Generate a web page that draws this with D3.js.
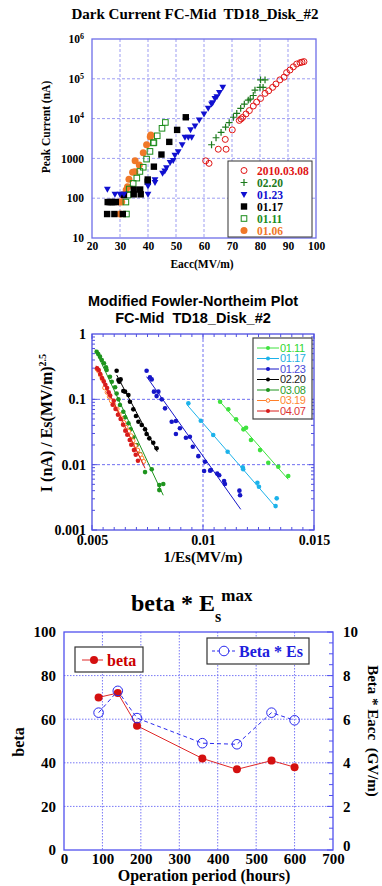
<!DOCTYPE html>
<html><head><meta charset="utf-8">
<script src="https://cdn.jsdelivr.net/npm/d3@7"></script>
<style>
body{margin:0;background:#fff;}
svg{display:block;}
</style></head><body>
<svg id="c" width="382" height="886"></svg>
<script>
// ---------------- Panel 1 data: Dark current vs Eacc ----------------
const dcXTicks = [20,30,40,50,60,70,80,90,100];
const dcYTicks = [10,100,1000,1e4,1e5,1e6];
const dcSeriesNames = ["2010.03.08","02.20","01.23","01.17","01.11","01.06"];
const dc0308 = [[60.6,870],[61.8,750],[65.1,1700],[67.9,1700],[67.6,3000],[70.1,5200],[72.6,9000],[73.2,9800],[73.8,10700],[75,13100],[76.2,15900],[77.6,20700],[78.8,26000],[80.2,32000],[81.8,43000],[83.1,50000],[84.5,61000],[85.7,74000],[87.1,94000],[88.6,110000],[89.5,143000],[90.7,166000],[91.9,200000],[93.1,235000],[94.3,254000],[95,262000],[95.7,270000]];
const dc0220 = [[62.7,2200],[64.3,3300],[66.1,4500],[67.7,6100],[69,7900],[70.5,10800],[71.7,13600],[73.1,18000],[74.4,23000],[75.8,29000],[76.5,31000],[77.6,38000],[78.2,52000],[80,61000],[81.1,61000],[80.2,94000],[81.8,94000]];
const dc0123 = [[25.5,166],[28.2,125],[30,125],[31.4,125],[40,125],[40,200],[42.5,245],[42.5,290],[45.2,420],[46,480],[46.6,580],[47.9,780],[49,880],[49.6,1200],[50.8,1470],[52.2,2200],[53.2,3400],[54.4,3400],[55.6,3400],[55.2,5200],[56.8,6500],[58.3,9200],[60,13000],[61.5,18000],[62.7,23000],[63.1,25000],[63.9,32000],[64.6,35000],[65.5,45000],[66.7,61000]];
const dc0117 = [[25.4,40],[28,40],[31,40],[25.6,80],[26.3,80],[27,80],[27.7,80],[28.5,80],[31.4,120],[34.9,165],[34.9,125],[37.2,165],[37.4,125],[39.9,260],[39.9,295],[42.1,620],[44.8,1250],[47.6,2600],[50.4,5200],[53.5,10800]];
const dc0111 = [[32.3,40],[32.1,80],[32.9,120],[33.3,170],[34.7,235],[36,320],[37.1,470],[38.3,600],[39.5,960],[40.7,1500],[41.9,2450],[42.1,2500],[43.3,3700],[45,5700],[46.2,8000]];
const dc0106 = [[30,40],[29.8,80],[30.6,80],[31,120],[32.2,160],[32.7,195],[33.2,300],[34.5,450],[35.3,460],[35.4,870],[36.9,680],[38.3,1380],[39.5,2200],[40.8,3500],[41,3900]];

// ---------------- Panel 2 data: Modified Fowler-Nordheim ----------------
const fnXTicks = [0.005,0.01,0.015];
const fnYTicks = [0.001,0.01,0.1,1];
const fnNames = ["01.11","01.17","01.23","02.20","03.08","03.19","04.07"];
const fn0111X = [0.01077,0.01114,0.01149,0.01182,0.01194,0.01216,0.01257,0.01294,0.01339,0.01384];
const fn0111Y = [0.092,0.0703,0.0494,0.0347,0.0367,0.0238,0.0167,0.0107,0.0093,0.0067];
const fn0111Fit = [[0.01073,0.095],[0.01384,0.00596]];
const fn0117X = [0.00934,0.0099,0.01046,0.01111,0.01179,0.01181,0.01245,0.01252,0.01332,0.01327];
const fn0117Y = [0.0868,0.047,0.0284,0.0158,0.0091,0.0085,0.00528,0.00458,0.00305,0.00232];
const fn0117Fit = [[0.00929,0.0818],[0.01329,0.00222]];
const fn0123X = [0.00746,0.00761,0.00769,0.00779,0.00799,0.00791,0.00814,0.00829,0.00859,0.00878,0.00896,0.00878,0.00923,0.00941,0.00954,0.00979,0.01009,0.01005,0.01032,0.01036,0.01064,0.01073,0.01095,0.01099,0.01164,0.01167];
const fn0123Y = [0.274,0.217,0.202,0.131,0.131,0.112,0.1,0.0728,0.0454,0.0465,0.036,0.0294,0.0258,0.0267,0.0188,0.0135,0.0111,0.008,0.0081,0.0083,0.0073,0.0069,0.0056,0.00505,0.004,0.0034];
const fn0123Fit = [[0.00746,0.222],[0.0117,0.00207]];
const fn0220X = [0.00611,0.00619,0.00629,0.00623,0.00641,0.00649,0.00664,0.00671,0.00686,0.00698,0.00709,0.00724,0.00739,0.00746,0.00758,0.00776,0.00791];
const fn0220Y = [0.274,0.198,0.202,0.186,0.134,0.131,0.116,0.092,0.0703,0.0555,0.0454,0.0404,0.0347,0.0294,0.0253,0.0216,0.0178];
const fn0220Fit = [[0.00611,0.236],[0.00794,0.0158]];
const fn0308X = [0.00521,0.00528,0.00536,0.00544,0.00554,0.00563,0.00566,0.00581,0.00589,0.00604,0.00611,0.00619,0.00626,0.00641,0.00649,0.00664,0.00674,0.00686,0.00701,0.00716,0.00739,0.00769,0.00803,0.00821,0.00803];
const fn0308Y = [0.536,0.494,0.45,0.40,0.356,0.309,0.281,0.222,0.186,0.153,0.123,0.1,0.0818,0.0647,0.053,0.0429,0.0347,0.0262,0.02,0.0145,0.0077,0.0085,0.00487,0.00505,0.00408];
const fn0308Fit = [[0.00514,0.58],[0.00821,0.0034]];
const fn0319X = [0.00523,0.0053,0.00538,0.00546,0.00557,0.00568,0.00578,0.00587,0.00598,0.00613,0.00622,0.00632,0.00643,0.00653,0.00665,0.00676,0.00685,0.00695,0.00706,0.00718,0.00725,0.00733];
const fn0319Y = [0.29,0.27,0.235,0.205,0.15,0.128,0.11,0.095,0.0826,0.071,0.0596,0.0517,0.0444,0.0373,0.0324,0.0277,0.0232,0.0195,0.0167,0.0142,0.0126,0.0112];
const fn0319Fit = [[0.0052,0.30],[0.00735,0.0105]];
const fn0407X = [0.00523,0.0053,0.00537,0.00545,0.00553,0.0056,0.00568,0.00575,0.00582,0.00593,0.00598,0.00606,0.00617,0.00629,0.0064,0.0065,0.00659,0.0067,0.00677,0.00689,0.00697,0.00707];
const fn0407Y = [0.298,0.281,0.244,0.212,0.188,0.167,0.149,0.128,0.114,0.0826,0.0953,0.071,0.058,0.0499,0.0408,0.0331,0.0287,0.0238,0.0202,0.0167,0.0142,0.0115];
const fn0407Fit = [[0.00519,0.327],[0.00739,0.0088]];

// ---------------- Panel 3 data: beta vs operation period ----------------
const opXTicks = [0,100,200,300,400,500,600,700];
const betaTicks = [0,20,40,60,80,100];
const betaEsTicks = [0,2,4,6,8,10];
const hours = [90,140,190,360,450,540,600];
const beta = [70,72,57,42,37,41,38];
const betaEs = [6.3,7.3,6.05,4.9,4.85,6.3,5.95];

const SERIF = '"Liberation Serif","Times New Roman",serif';
const SANS = '"Liberation Sans",Arial,sans-serif';

const svg = d3.select('#c');
svg.append('rect').attr('width',382).attr('height',886).attr('fill','#fff');

function styleAxis(g, size, family, weight){
  g.attr('font-family',family).attr('font-size',size).attr('font-weight',weight);
  g.select('.domain').remove();
  g.selectAll('text').attr('fill','#000');
}

// =================== PANEL 1 ===================
{
  const L=92,R=316,T=39,B=238;
  const x = d3.scaleLinear().domain([20,100]).range([L,R]);
  const y = d3.scaleLog().domain([10,1e6]).range([B,T]);
  const g = svg.append('g');
  g.append('text').attr('x',195).attr('y',19).attr('text-anchor','middle')
    .attr('font-family',SERIF).attr('font-weight','bold').attr('font-size',15)
    .style('white-space','pre').text('Dark Current FC-Mid  TD18_Disk_#2');
  g.selectAll('.gx').data(dcXTicks.slice(1,-1)).join('line')
    .attr('x1',d=>x(d)).attr('x2',d=>x(d)).attr('y1',T).attr('y2',B)
    .attr('stroke','#9d9df2').attr('stroke-width',1).attr('stroke-dasharray','3,2');
  g.selectAll('.gy').data(dcYTicks.slice(1,-1)).join('line')
    .attr('y1',d=>y(d)).attr('y2',d=>y(d)).attr('x1',L).attr('x2',R)
    .attr('stroke','#9d9df2').attr('stroke-width',1).attr('stroke-dasharray','3,2');
  g.append('rect').attr('x',L).attr('y',T).attr('width',R-L).attr('height',B-T)
    .attr('fill','none').attr('stroke','#6e6ee8').attr('stroke-width',1.3);
  const ax = g.append('g').attr('transform',`translate(0,${B})`)
    .call(d3.axisBottom(x).tickValues(dcXTicks).tickSize(0).tickPadding(4).tickFormat(d3.format('d')));
  styleAxis(ax,11.5,SERIF,'bold');
  const ay = g.append('g').attr('transform',`translate(${L},0)`)
    .call(d3.axisLeft(y).tickValues(dcYTicks).tickSize(0).tickPadding(8).tickFormat(d=> d>=1e4 ? '10' : String(d)));
  styleAxis(ay,11.5,SERIF,'bold');
  ay.selectAll('.tick text').filter(d=>d>=1e4).append('tspan')
    .attr('dy','-0.55em').attr('font-size',8).text(d=>Math.round(Math.log10(d)));
  g.append('text').attr('transform','translate(50,127) rotate(-90)').attr('text-anchor','middle')
    .attr('font-family',SERIF).attr('font-weight','bold').attr('font-size',11.5).text('Peak Current (nA)');
  g.append('text').attr('x',202).attr('y',268).attr('text-anchor','middle')
    .attr('font-family',SERIF).attr('font-weight','bold').attr('font-size',11.5).text('Eacc(MV/m)');

  const tri = 'M-3.4,-2.6L3.4,-2.6L0,3.4Z';
  const styles = {
    "2010.03.08": {data:dc0308, text:'#e01414', draw:(s)=>s.append('circle').attr('r',3).attr('fill','none').attr('stroke','#e01414').attr('stroke-width',1)},
    "02.20": {data:dc0220, text:'#1c7a1c', draw:(s)=>s.append('path').attr('d','M-3.4,0H3.4M0,-3.4V3.4').attr('stroke','#1c7a1c').attr('stroke-width',1.2)},
    "01.23": {data:dc0123, text:'#1010d0', draw:(s)=>s.append('path').attr('d',tri).attr('fill','#1010d0')},
    "01.17": {data:dc0117, text:'#000', draw:(s)=>s.append('rect').attr('x',-3.2).attr('y',-3.2).attr('width',6.4).attr('height',6.4).attr('fill','#000')},
    "01.11": {data:dc0111, text:'#1a8c1a', draw:(s)=>s.append('rect').attr('x',-2.8).attr('y',-2.8).attr('width',5.6).attr('height',5.6).attr('fill','none').attr('stroke','#1a8c1a').attr('stroke-width',1)},
    "01.06": {data:dc0106, text:'#f07828', draw:(s)=>s.append('circle').attr('r',3.5).attr('fill','#f07828')}
  };
  const order = ["01.06","01.11","01.17","01.23","02.20","2010.03.08"];
  order.forEach(n=>{
    const st = styles[n];
    const pts = g.append('g').selectAll('g').data(st.data).join('g')
      .attr('transform',d=>`translate(${x(d[0])},${y(d[1])})`);
    st.draw(pts);
  });
  const lg = g.append('g');
  lg.append('rect').attr('x',228).attr('y',161).attr('width',84).attr('height',76)
    .attr('fill','#fff').attr('stroke','#333').attr('stroke-width',1);
  dcSeriesNames.forEach((n,i)=>{
    const yy = 170.5 + i*12;
    const m = lg.append('g').attr('transform',`translate(244,${yy})`);
    styles[n].draw(m);
    lg.append('text').attr('x',257).attr('y',yy).attr('dy','0.35em')
      .attr('font-family',SERIF).attr('font-weight','bold').attr('font-size',11.5)
      .attr('fill',styles[n].text).text(n);
  });
}

// =================== PANEL 2 ===================
{
  const L=92,R=314,T=334,B=530;
  const x = d3.scaleLinear().domain([0.005,0.015]).range([L,R]);
  const y = d3.scaleLog().domain([0.001,1]).range([B,T]);
  const g = svg.append('g');
  g.append('text').attr('x',193).attr('y',306).attr('text-anchor','middle')
    .attr('font-family',SANS).attr('font-weight','bold').attr('font-size',14.5).text('Modified Fowler-Northeim Plot');
  g.append('text').attr('x',193).attr('y',323).attr('text-anchor','middle').style('white-space','pre')
    .attr('font-family',SANS).attr('font-weight','bold').attr('font-size',14.5).text('FC-Mid  TD18_Disk_#2');
  g.selectAll('.gx').data([0.01]).join('line')
    .attr('x1',d=>x(d)).attr('x2',d=>x(d)).attr('y1',T).attr('y2',B)
    .attr('stroke','#6e6ef0').attr('stroke-width',1).attr('stroke-dasharray','3,2');
  g.selectAll('.gy').data([0.01,0.1]).join('line')
    .attr('y1',d=>y(d)).attr('y2',d=>y(d)).attr('x1',L).attr('x2',R)
    .attr('stroke','#6e6ef0').attr('stroke-width',1).attr('stroke-dasharray','3,2');
  const frameC = '#4f4fe0';
  const xMinor = d3.range(0,21).map(i=>0.005+i*0.0005);
  const yMinor = [];
  [0.001,0.01,0.1].forEach(dd=>{ for(let k=1;k<10;k++) yMinor.push(dd*k); });
  const tk = g.append('g').attr('stroke',frameC).attr('stroke-width',1);
  xMinor.forEach((v,i)=>{
    const len = (i%10===0)?5:3;
    tk.append('line').attr('x1',x(v)).attr('x2',x(v)).attr('y1',B).attr('y2',B-len);
    tk.append('line').attr('x1',x(v)).attr('x2',x(v)).attr('y1',T).attr('y2',T+len);
  });
  yMinor.forEach((v,i)=>{
    const len = (i%9===0)?5:3;
    tk.append('line').attr('y1',y(v)).attr('y2',y(v)).attr('x1',L).attr('x2',L+len);
    tk.append('line').attr('y1',y(v)).attr('y2',y(v)).attr('x1',R).attr('x2',R-len);
  });
  g.append('rect').attr('x',L).attr('y',T).attr('width',R-L).attr('height',B-T)
    .attr('fill','none').attr('stroke',frameC).attr('stroke-width',1.3);
  const ax = g.append('g').attr('transform',`translate(0,${B})`)
    .call(d3.axisBottom(x).tickValues(fnXTicks).tickSize(0).tickPadding(5).tickFormat(d=>String(d)));
  styleAxis(ax,14,SERIF,'bold');
  const ay = g.append('g').attr('transform',`translate(${L},0)`)
    .call(d3.axisLeft(y).tickValues(fnYTicks).tickSize(0).tickPadding(6).tickFormat(d=>String(d)));
  styleAxis(ay,14,SERIF,'bold');
  const yl = g.append('text').attr('transform','translate(52,423) rotate(-90)').attr('text-anchor','middle')
    .attr('font-family',SERIF).attr('font-weight','bold').attr('font-size',16);
  yl.append('tspan').text('I (nA) / Es(MV/m)');
  yl.append('tspan').attr('dy','-0.6em').attr('font-size',10).text('2.5');
  g.append('text').attr('x',203).attr('y',562).attr('text-anchor','middle')
    .attr('font-family',SERIF).attr('font-weight','bold').attr('font-size',15).text('1/Es(MV/m)');

  const series = [
    {n:"01.11", X:fn0111X, Y:fn0111Y, fit:fn0111Fit, c:'#3ee23e', tc:'#30d830', open:false},
    {n:"01.17", X:fn0117X, Y:fn0117Y, fit:fn0117Fit, c:'#1cb2ea', tc:'#22b0e0', open:false},
    {n:"01.23", X:fn0123X, Y:fn0123Y, fit:fn0123Fit, c:'#1616c8', tc:'#4a4ad8', open:false},
    {n:"02.20", X:fn0220X, Y:fn0220Y, fit:fn0220Fit, c:'#000', tc:'#222', open:false},
    {n:"03.08", X:fn0308X, Y:fn0308Y, fit:fn0308Fit, c:'#1e941e', tc:'#2ea02e', open:false},
    {n:"03.19", X:fn0319X, Y:fn0319Y, fit:fn0319Fit, c:'#ff7f2a', tc:'#ff8833', open:true},
    {n:"04.07", X:fn0407X, Y:fn0407Y, fit:fn0407Fit, c:'#d81c1c', tc:'#dd3333', open:false}
  ];
  series.forEach(s=>{
    g.append('line').attr('x1',x(s.fit[0][0])).attr('y1',y(s.fit[0][1]))
      .attr('x2',x(s.fit[1][0])).attr('y2',y(s.fit[1][1]))
      .attr('stroke',s.c).attr('stroke-width',1);
    g.append('g').selectAll('circle').data(s.X.map((v,i)=>[v,s.Y[i]])).join('circle')
      .attr('cx',d=>x(d[0])).attr('cy',d=>y(d[1])).attr('r',s.open?2:2.3)
      .attr('fill',s.open?'#fff':s.c).attr('stroke',s.c).attr('stroke-width',s.open?1:0);
  });
  const lg = g.append('g');
  lg.append('rect').attr('x',253).attr('y',338).attr('width',59).attr('height',81)
    .attr('fill','#fff').attr('stroke','#444').attr('stroke-width',1.2);
  series.forEach((s,i)=>{
    const yy = 348 + i*10.5;
    lg.append('line').attr('x1',257).attr('x2',279).attr('y1',yy).attr('y2',yy).attr('stroke',s.c).attr('stroke-width',1);
    lg.append('circle').attr('cx',268).attr('cy',yy).attr('r',s.open?1.8:2)
      .attr('fill',s.open?'#fff':s.c).attr('stroke',s.c).attr('stroke-width',s.open?1:0);
    lg.append('text').attr('x',280).attr('y',yy).attr('dy','0.36em')
      .attr('font-family',SANS).attr('font-size',11).attr('letter-spacing',-0.4)
      .attr('fill',s.tc).text(s.n);
  });
}

// =================== PANEL 3 ===================
{
  const L=64,R=333,T=632,B=850;
  const x = d3.scaleLinear().domain([0,700]).range([L,R]);
  const yL = d3.scaleLinear().domain([0,100]).range([B,T]);
  const yR = d3.scaleLinear().domain([0,10]).range([B,T]);
  const g = svg.append('g');
  const tt = g.append('text').attr('x',131).attr('y',611)
    .attr('font-family',SERIF).attr('font-weight','bold').attr('font-size',24);
  tt.append('tspan').text('beta * E');
  tt.append('tspan').attr('dy',11).attr('font-size',16).text('s');
  tt.append('tspan').attr('dy',-21).attr('font-size',17).text('max');
  const gc = '#7878f6';
  g.selectAll('.gx').data(opXTicks.slice(1,-1)).join('line')
    .attr('x1',d=>x(d)).attr('x2',d=>x(d)).attr('y1',T).attr('y2',B)
    .attr('stroke',gc).attr('stroke-width',1).attr('stroke-dasharray','1.5,1.5');
  g.selectAll('.gy').data(betaTicks.slice(1,-1)).join('line')
    .attr('y1',d=>yL(d)).attr('y2',d=>yL(d)).attr('x1',L).attr('x2',R)
    .attr('stroke',gc).attr('stroke-width',1).attr('stroke-dasharray','1.5,1.5');
  const frameC = '#5050ee';
  const tk = g.append('g').attr('stroke',frameC).attr('stroke-width',1);
  d3.range(0,21).forEach(i=>{
    const v = i*0.5, len = (i%4===0)?6:4;
    tk.append('line').attr('x1',R).attr('x2',R-len).attr('y1',yR(v)).attr('y2',yR(v));
  });
  g.append('rect').attr('x',L).attr('y',T).attr('width',R-L).attr('height',B-T)
    .attr('fill','none').attr('stroke',frameC).attr('stroke-width',1.3);
  const ax = g.append('g').attr('transform',`translate(0,${B})`)
    .call(d3.axisBottom(x).tickValues(opXTicks).tickSize(0).tickPadding(3).tickFormat(d3.format('d')));
  styleAxis(ax,15,SERIF,'bold');
  const ayl = g.append('g').attr('transform',`translate(${L},0)`)
    .call(d3.axisLeft(yL).tickValues(betaTicks).tickSize(0).tickPadding(8).tickFormat(d3.format('d')));
  styleAxis(ayl,15,SERIF,'bold');
  const ayr = g.append('g').attr('transform',`translate(${R},0)`)
    .call(d3.axisRight(yR).tickValues(betaEsTicks).tickSize(0).tickPadding(10).tickFormat(d3.format('d')));
  styleAxis(ayr,15,SERIF,'bold');
  ayr.selectAll('.tick text').filter(d=>d===0).attr('dy','0.05em');
  g.append('text').attr('transform','translate(24,742) rotate(-90)').attr('text-anchor','middle')
    .attr('font-family',SERIF).attr('font-weight','bold').attr('font-size',16).text('beta');
  g.append('text').attr('transform','translate(368,731) rotate(90)').attr('text-anchor','middle')
    .attr('font-family',SERIF).attr('font-weight','bold').attr('font-size',15).text('Beta * Eacc  (GV/m)').style('white-space','pre');
  g.append('text').attr('x',204).attr('y',881).attr('text-anchor','middle')
    .attr('font-family',SERIF).attr('font-weight','bold').attr('font-size',16).text('Operation period (hours)');

  const red = '#d41010', blue = '#2a2aee';
  const pts = hours.map((h,i)=>({h, b:beta[i], e:betaEs[i]}));
  g.append('path').datum(pts).attr('d',d3.line().x(d=>x(d.h)).y(d=>yL(d.b)))
    .attr('fill','none').attr('stroke','#e02828').attr('stroke-width',1);
  g.append('path').datum(pts).attr('d',d3.line().x(d=>x(d.h)).y(d=>yR(d.e)))
    .attr('fill','none').attr('stroke',blue).attr('stroke-width',1).attr('stroke-dasharray','4,3');
  g.selectAll('.rb').data(pts).join('circle').attr('cx',d=>x(d.h)).attr('cy',d=>yL(d.b)).attr('r',4).attr('fill',red);
  g.selectAll('.be').data(pts).join('circle').attr('cx',d=>x(d.h)).attr('cy',d=>yR(d.e)).attr('r',4.8)
    .attr('fill','none').attr('stroke',blue).attr('stroke-width',1);
  g.append('rect').attr('x',75).attr('y',647).attr('width',68).attr('height',25)
    .attr('fill','#fff').attr('stroke','#333').attr('stroke-width',1.2);
  g.append('line').attr('x1',82).attr('x2',103).attr('y1',660).attr('y2',660).attr('stroke','#e02828');
  g.append('circle').attr('cx',94).attr('cy',660).attr('r',4).attr('fill',red);
  g.append('text').attr('x',107).attr('y',660).attr('dy','0.35em').attr('font-family',SERIF)
    .attr('font-weight','bold').attr('font-size',16).attr('fill','#cc0000').text('beta');
  g.append('rect').attr('x',207).attr('y',638).attr('width',102).attr('height',26)
    .attr('fill','#fff').attr('stroke','#333').attr('stroke-width',1.2);
  g.append('line').attr('x1',212).attr('x2',237).attr('y1',651).attr('y2',651).attr('stroke',blue).attr('stroke-dasharray','3,2');
  g.append('circle').attr('cx',224).attr('cy',651).attr('r',4.8).attr('fill','#fff').attr('stroke',blue);
  g.append('text').attr('x',239).attr('y',651).attr('dy','0.35em').attr('font-family',SERIF)
    .attr('font-weight','bold').attr('font-size',16).attr('fill','#2020dd').text('Beta * Es');
}
</script></body></html>
